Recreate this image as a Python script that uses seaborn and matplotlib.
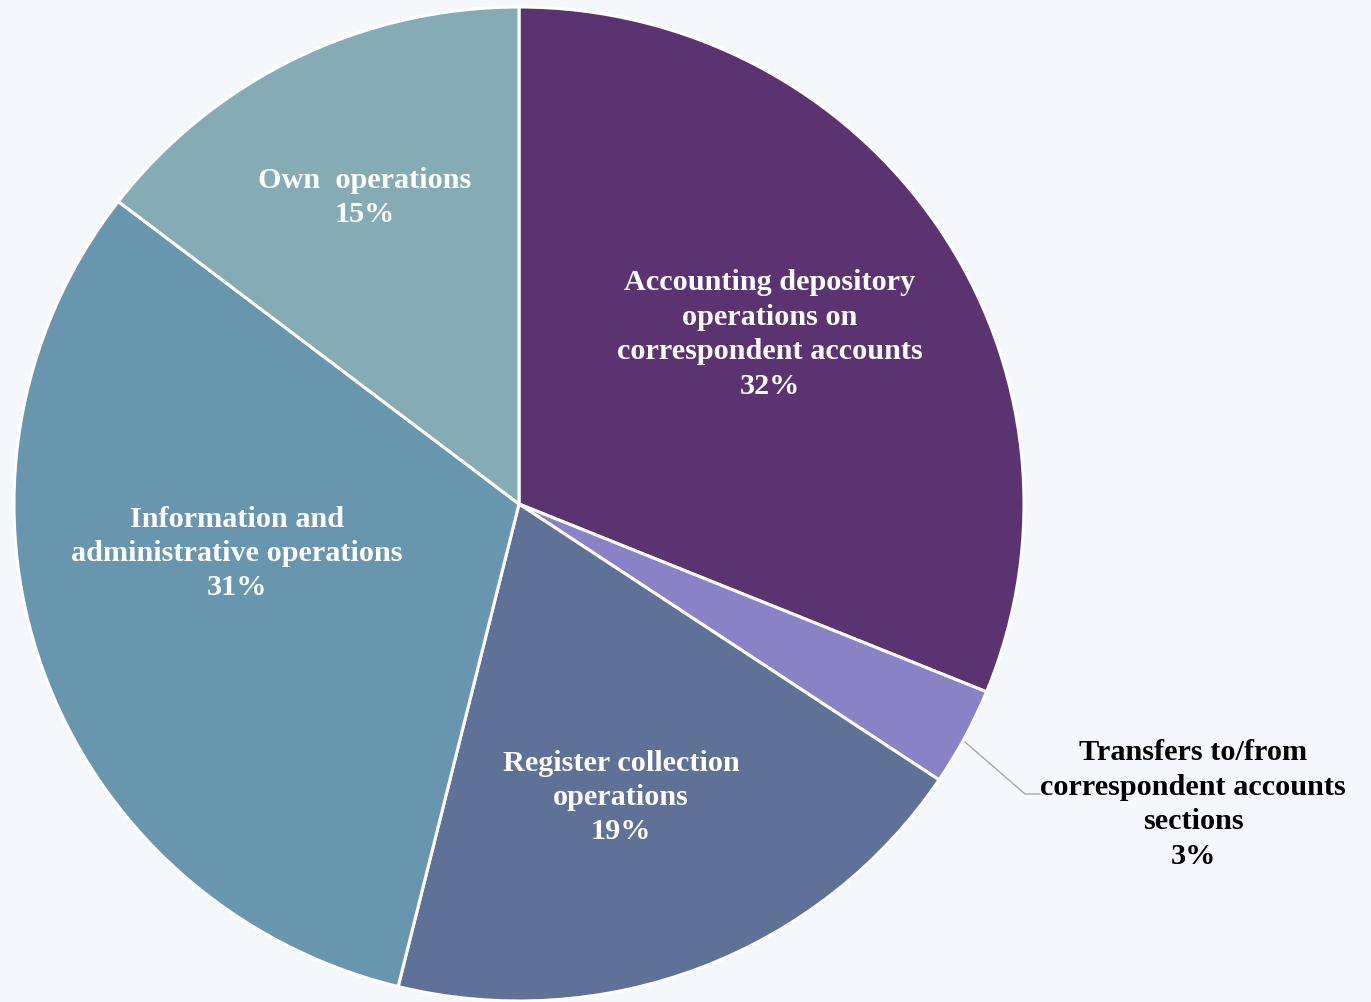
import matplotlib
matplotlib.use("Agg")
import matplotlib.pyplot as plt
import seaborn as sns

categories = [
    "Accounting depository\noperations on\ncorrespondent accounts",
    "Transfers to/from\ncorrespondent accounts\nsections",
    "Register collection\noperations",
    "Information and\nadministrative operations",
    "Own  operations",
]
values = [31.2, 3.2, 19.5, 31.6, 14.6]
pct_labels = ["32%", "3%", "19%", "31%", "15%"]
colors = ["#5B3370", "#8882C6", "#5F7196", "#6896AF", "#85ABB4"]

sns.set_style("white")
plt.rcParams["font.family"] = ["Liberation Serif", "DejaVu Serif"]

W, H = 1371, 1003
bg = "#F4F8FD"
fig = plt.figure(figsize=(W / 100, H / 100), dpi=100, facecolor=bg)
ax = fig.add_axes([0, 0, 1, 1])
ax.set_facecolor(bg)

# pie geometry in pixels (top-left origin)
pcx, pcy, rx, ry = 519, 505, 505, 497


def to_data(px, py):
    return (px - pcx) / rx, (pcy - py) / ry


palette = sns.color_palette(colors)
ax.pie(values, colors=palette, startangle=90, counterclock=False,
       center=(0, 0), radius=1, frame=True,
       wedgeprops=dict(edgecolor="white", linewidth=2.2))
x0, y1 = to_data(0, 0)
x1, y0 = to_data(W, H)
ax.set_xlim(x0, x1)
ax.set_ylim(y0, y1)
ax.set_aspect("auto")
ax.axis("off")

# label block centers (pixel, top origin)
label_pos = [(770, 334.5), (1193, 804.5), (621, 797.5), (237, 553.5), (365, 197.5)]
label_color = ["white", "black", "white", "white", "white"]
for cat, pct, (px, py), c in zip(categories, pct_labels, label_pos, label_color):
    x, y = to_data(px, py)
    ax.text(x, y, cat + "\n" + pct, ha="center", va="center",
            fontsize=21.8, fontweight="bold", color=c, linespacing=1.35)

# leader line for small slice
lx, ly = zip(*[to_data(965, 743), to_data(1025, 795), to_data(1040, 795)])
ax.plot(lx, ly, color="#A8A8A8", lw=1)

fig.savefig("out.png", dpi=100, facecolor=bg)
